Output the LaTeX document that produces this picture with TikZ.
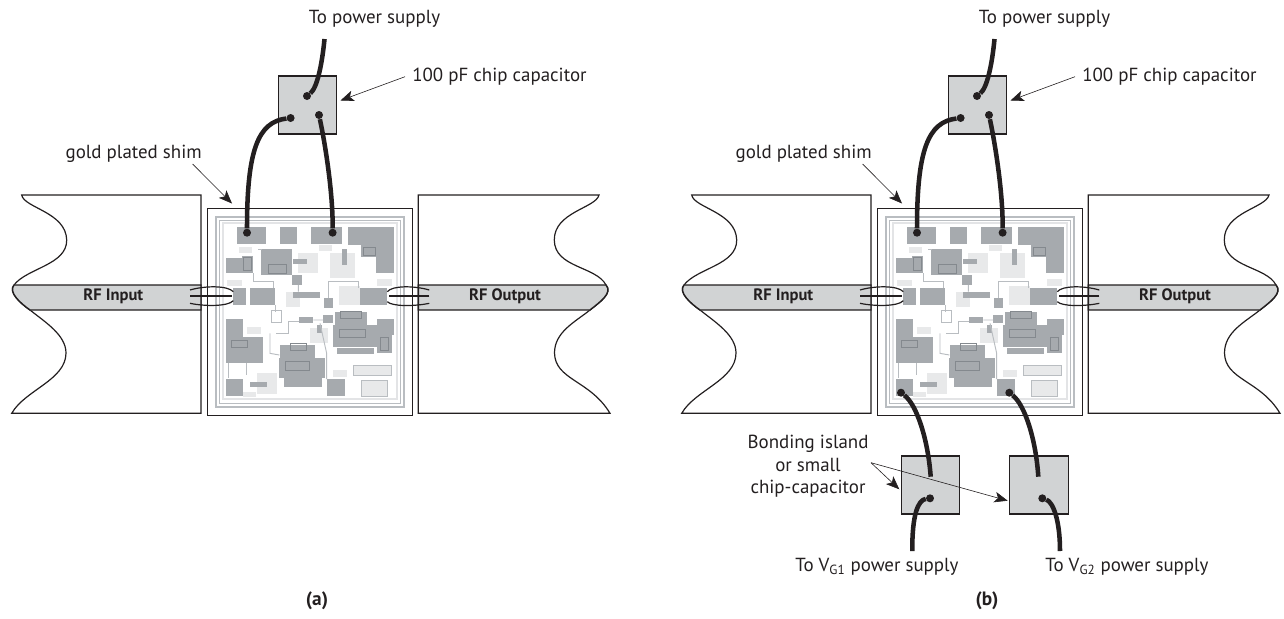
\documentclass[tikz,border=0pt]{standalone}
\usepackage{fontspec}
\setmainfont{PT Sans}
\usetikzlibrary{arrows.meta}
\definecolor{ink}{HTML}{231F20}
\definecolor{stripgray}{HTML}{D1D3D4}
\definecolor{padgray}{HTML}{A6AAAE}
\definecolor{padline}{HTML}{84898E}
\definecolor{chipline}{HTML}{B9BDC1}
\definecolor{chiplight}{HTML}{E8E9EA}
\tikzset{
  lbl/.style={inner sep=0, text=ink, font=\fontsize{14.2}{16.8}\selectfont},
  rflbl/.style={inner sep=0, text=ink, font=\fontsize{12.4}{14}\selectfont\bfseries},
  taglbl/.style={inner sep=0, text=ink, font=\fontsize{14.5}{16}\selectfont\bfseries},
  block/.style={draw=ink, line width=0.9pt, fill=white},
  strip/.style={draw=ink, line width=1.1pt, fill=stripgray},
  capbox/.style={draw=ink, line width=0.9pt, fill=stripgray, inner sep=0},
  wire/.style={draw=ink, line width=3.4pt},
  pin/.style={circle, fill=ink, inner sep=0, minimum size=6pt},
  bond/.style={draw=ink, line width=0.9pt},
  leader/.style={draw=ink, line width=0.45pt, -{Stealth[length=10pt,width=8pt,inset=2.5pt]}},
  cline/.style={draw=chipline, line width=0.7pt},
}
\begin{document}
\begin{tikzpicture}[x=0.75pt,y=-0.75pt]
\useasboundingbox (0,0) rectangle (1284,618);
\foreach \dx/\tag in {0/a,670/b}{
\begin{scope}[shift={(\dx,0)}]
% substrate blocks
\draw[block] (21.7,195) .. controls (24,208) and (66,212) .. (66.7,240) .. controls (67,265) and (27,268) .. (14,285) .. controls (8,292) and (20,303) .. (30,310) .. controls (45,322) and (66,335) .. (66,353) .. controls (66,380) and (25,390) .. (11.7,413.3) -- (201,413.3) -- (201,195) -- cycle;
\draw[block] (599,195) .. controls (596,208) and (554,212) .. (554.3,240) .. controls (554.5,268) and (596,266) .. (606,285) .. controls (613,293) and (600,302) .. (590,310) .. controls (575,322) and (554.5,332) .. (554.5,353) .. controls (555,380) and (590,380) .. (610,413.3) -- (418.3,413.3) -- (418.3,195) -- cycle;
\draw[strip] (14,285) -- (201,285) -- (201,310) -- (30,310) .. controls (20,303) and (8,292) .. (14,285);
\draw[strip] (418.3,285) -- (606,285) .. controls (613,293) and (600,302) .. (590,310) -- (418.3,310) -- cycle;
\node[rflbl] (\tag-rfin) at (113.3,296) {RF Input};
\node[rflbl] (\tag-rfout) at (505,296) {RF Output};
\draw[block] (207.3,208.3) rectangle (412.7,415.3);
% chip layout, in 1/3 pixel units
\begin{scope}[shift={(190,190)},x=0.25pt,y=-0.25pt]
\draw[chipline,line width=1.5pt] (78,82) rectangle (642,650);
\draw[chipline,line width=1pt] (88,92) rectangle (632,640);
\draw[chipline!40,line width=1.5pt] (100,100) rectangle (622,628);
\foreach \xa/\ya/\xb/\yb in {323/188/385/250,420/188/495/265,287/305/330/350,448/287/510/345,200/550/260/612,360/415/415/460,147/170/187/190,388/165/425/183,112/270/155/288,560/268/605/288,172/410/213/432,428/540/472/560,490/527/603/557,515/572/592/620,160/605/198/622}
  \fill[chiplight] (\xa,\ya) rectangle (\xb,\yb);
\foreach \xa/\ya/\xb/\yb in {140/110/228/163,270/110/322/163,364/110/455/163,475/110/612/165,512/165/612/200,558/200/612/250,108/203/155/250,155/197/190/250,212/178/305/255,305/255/335/285,130/293/168/345,180/293/255/345,510/293/590/345,108/387/160/440,108/440/218/520,268/505/405/565,270/465/375/505,283/565/395/590,430/405/560/470,435/365/530/405,440/475/553/493,562/387/612/435,562/435/605/490,108/567/160/618,410/567/465/618,310/208/350/222,455/178/470/225,310/305/390/325,403/325/430/355,328/380/370/400,380/405/395/430,180/575/230/590,400/375/430/400}
  \fill[padgray] (\xa,\ya) rectangle (\xb,\yb);
\foreach \xa/\ya/\xb/\yb in {235/222/288/250,520/172/555/195,160/203/185/242,285/515/358/540,448/417/525/443,125/450/172/472,570/442/595/482,300/460/350/480,450/365/515/385}
  \draw[padline,line width=0.7pt] (\xa,\ya) rectangle (\xb,\yb);
\draw[chipline,line width=0.7pt] (490,527) rectangle (603,557) (515,572) rectangle (592,620);
\draw[cline] (190,250) -- (190,275) -- (250,275) -- (250,293);
\draw[cline] (255,345) -- (255,365) (245,360) rectangle (275,398);
\draw[cline] (258,430) -- (295,430) -- (295,395) -- (328,395);
\draw[cline] (240,430) -- (240,490) -- (268,495);
\draw[cline] (370,390) -- (400,390) (325,285) -- (325,305) (390,400) -- (410,490) -- (410,567);
\draw[cline] (415,325) -- (415,275) -- (505,275) -- (505,293);
\draw[cline] (115,520) -- (115,565) (170,520) -- (170,555) (205,178) -- (215,178);
\end{scope}
% bond loops to the chip
\coordinate (\tag-ia) at (190,290);
\coordinate (\tag-ib) at (190,296);
\coordinate (\tag-ic) at (190,303.3);
\coordinate (\tag-ja) at (233.3,291.7);
\coordinate (\tag-jb) at (232,296);
\coordinate (\tag-jc) at (233.3,300.7);
\draw[bond] (\tag-ia) .. controls (205,285.5) and (228,285.5) .. (\tag-ja);
\draw[bond] (\tag-jc) .. controls (228,306.5) and (205,306.5) .. (\tag-ic);
\draw[bond] (\tag-ib) -- (\tag-jb);
\coordinate (\tag-oa) at (429.3,290);
\coordinate (\tag-ob) at (429.3,296);
\coordinate (\tag-oc) at (429.3,303.3);
\coordinate (\tag-na) at (387.3,291.7);
\coordinate (\tag-nb) at (389,296);
\coordinate (\tag-nc) at (387.3,301.7);
\draw[bond] (\tag-oa) .. controls (414,285.5) and (392,285.5) .. (\tag-na);
\draw[bond] (\tag-nc) .. controls (392,306.5) and (414,306.5) .. (\tag-oc);
\draw[bond] (\tag-ob) -- (\tag-nb);
% decoupling capacitor and its wires
\node[capbox, minimum width=44pt, minimum height=43.5pt] (\tag-cap) at (307.5,105) {};
\node[pin] (\tag-p1) at (307,96) {};
\node[pin] (\tag-p2) at (290.6,118) {};
\node[pin] (\tag-p3) at (319,115) {};
\node[pin] (\tag-p4) at (247,232.7) {};
\node[pin] (\tag-p5) at (332.6,232.7) {};
\coordinate (\tag-sup) at (324.5,39);
\draw[wire] (\tag-sup) .. controls (322,65) and (317,88) .. (\tag-p1);
\draw[wire] (\tag-p2) .. controls (258,122) and (247,150) .. (\tag-p4);
\draw[wire] (\tag-p3) .. controls (326,148) and (333,195) .. (\tag-p5);
\node[lbl] (\tag-power) at (374.5,19.3) {To power supply};
\node[lbl, anchor=west] (\tag-caplbl) at (412,77) {100 pF chip capacitor};
\node[lbl] (\tag-shim) at (133.7,154) {gold plated shim};
\coordinate (\tag-captail) at (405,76.7);
\coordinate (\tag-caphead) at (340.5,100.5);
\coordinate (\tag-shimtail) at (192.6,164);
\coordinate (\tag-shimhead) at (232,203.5);
\draw[leader] (\tag-captail) -- (\tag-caphead);
\draw[leader] (\tag-shimtail) -- (\tag-shimhead);
\end{scope}
}
% biasing of panel (b)
\node[capbox, minimum width=44pt, minimum height=43.5pt] (capg1) at (930.5,485) {};
\node[capbox, minimum width=44pt, minimum height=43.5pt] (capg2) at (1038.8,485) {};
\node[pin] (g1a) at (901,392.7) {};
\node[pin] (g2a) at (1009.3,392.7) {};
\node[pin] (g1b) at (930,498.3) {};
\node[pin] (g2b) at (1042.3,498.3) {};
\coordinate (g1c) at (930.7,476.7);
\coordinate (g2c) at (1038.3,476.7);
\coordinate (g1d) at (912.3,551);
\coordinate (g2d) at (1060,551);
\draw[wire] (g1a) .. controls (917,405) and (928,440) .. (g1c);
\draw[wire] (g2a) .. controls (1025,405) and (1036,440) .. (g2c);
\draw[wire] (g1b) .. controls (918,500) and (912,515) .. (g1d);
\draw[wire] (g2b) .. controls (1053,502) and (1060,520) .. (g2d);
\node[lbl, align=center] (island) at (808,466.5) {Bonding island\\or small\\chip-capacitor};
\coordinate (islandtail) at (871,462.7);
\coordinate (islandh1) at (899.3,489.3);
\coordinate (islandh2) at (1007.7,500.7);
\draw[leader] (islandtail) -- (islandh1);
\draw[leader] (islandtail) -- (islandh2);
\node[lbl] (supg1) at (877,566.7) {To V\textsubscript{G1} power supply};
\node[lbl] (supg2) at (1127,566.7) {To V\textsubscript{G2} power supply};
\node[taglbl] (tagb) at (987,600.7) {(b)};
\node[taglbl] (taga) at (317,600.7) {(a)};
\end{tikzpicture}
\end{document}
